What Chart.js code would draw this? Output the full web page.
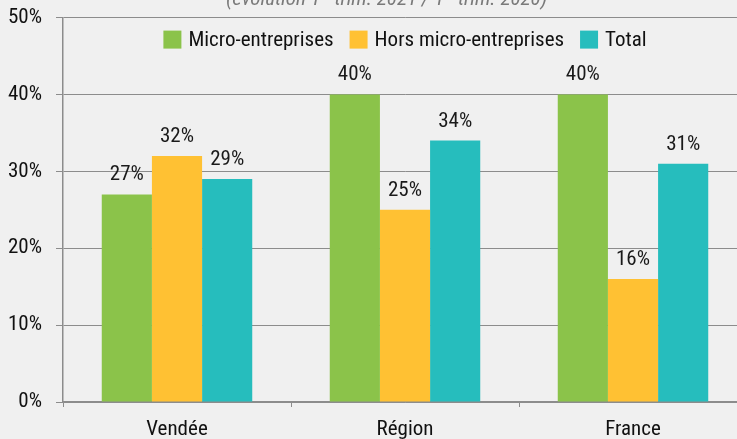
<!DOCTYPE html>
<html>
<head>
<meta charset="utf-8">
<script src="https://cdn.jsdelivr.net/npm/chart.js@4"></script>
<style>
  html, body { margin: 0; padding: 0; background: #f0f0f0; overflow: hidden; width: 737px; height: 439px; }
  #subtitle {
    position: absolute; top: -17px; left: 18px; width: 737px; text-align: center;
    font-family: "Roboto Condensed", "Liberation Sans Narrow", Roboto, sans-serif;
    font-style: italic; font-size: 21px; line-height: 20px; color: #7a7a7a;
  }
  #subtitle sup { font-size: 12px; }
  #wrap { position: absolute; top: -9px; left: 0; width: 747px; height: 469px; }
</style>
</head>
<body>
<div id="wrap"><canvas id="dataChart"></canvas></div>
<div id="subtitle">(évolution 1<sup>er</sup> trim. 2021 / 1<sup>er</sup> trim. 2020)</div>
<script>
// Chart data
const categories = ["Vendée", "Région", "France"];
const microEntreprises = [27, 40, 40];
const horsMicro = [32, 25, 16];
const total = [29, 34, 31];
const seriesNames = ["Micro-entreprises", "Hors micro-entreprises", "Total"];
const seriesColors = ["#8bc34a", "#ffc133", "#26bdbd"];
const yTicks = [0, 10, 20, 30, 40, 50];

const FONT = "'Roboto Condensed', 'Liberation Sans Narrow', Roboto, sans-serif";

// Draws the value above each bar
const valueLabels = {
    id: "valueLabels",
    afterDatasetsDraw(chart) {
        const ctx = chart.ctx;
        ctx.save();
        ctx.font = "21px " + FONT;
        ctx.fillStyle = "#1a1a1a";
        ctx.textAlign = "center";
        ctx.textBaseline = "alphabetic";
        chart.data.datasets.forEach((ds, i) => {
            chart.getDatasetMeta(i).data.forEach((bar, j) => {
                ctx.fillText(ds.data[j] + "%", bar.x, bar.y - 14);
            });
        });
        ctx.restore();
    }
};

// Legend drawn inside the plot, centred on the chart area
const innerLegend = {
    id: "innerLegend",
    afterDraw(chart) {
        const ctx = chart.ctx;
        const area = chart.chartArea;
        const box = 18, gap = 7, spacing = 16;
        ctx.save();
        ctx.font = "21px " + FONT;
        const items = chart.data.datasets.map(ds => ({
            text: ds.label, color: ds.backgroundColor, w: ctx.measureText(ds.label).width
        }));
        let width = items.reduce((s, it) => s + box + gap + it.w, 0) + spacing * (items.length - 1);
        let x = (area.left + area.right) / 2 - width / 2;
        const cy = area.top + 22;
        ctx.textBaseline = "middle";
        ctx.textAlign = "left";
        items.forEach(it => {
            ctx.fillStyle = it.color;
            ctx.fillRect(x, cy - box / 2, box, box);
            ctx.fillStyle = "#111";
            ctx.fillText(it.text, x + box + gap, cy + 1);
            x += box + gap + it.w + spacing;
        });
        ctx.restore();
    }
};

function createChart() {
    const ctx = document.getElementById("dataChart").getContext("2d");
    new Chart(ctx, {
        type: "bar",
        data: {
            labels: categories,
            datasets: [
                { label: seriesNames[0], data: microEntreprises, backgroundColor: seriesColors[0] },
                { label: seriesNames[1], data: horsMicro, backgroundColor: seriesColors[1] },
                { label: seriesNames[2], data: total, backgroundColor: seriesColors[2] }
            ]
        },
        options: {
            responsive: true,
            maintainAspectRatio: false,
            animation: false,
            layout: { padding: { top: 7, left: 0, right: 0, bottom: 18 } },
            datasets: { bar: { categoryPercentage: 0.66, barPercentage: 1.0 } },
            plugins: {
                legend: { display: false },
                tooltip: { enabled: false }
            },
            scales: {
                x: {
                    afterFit: s => { s.height = 40; },
                    grid: { offset: true, drawOnChartArea: false, tickLength: 5, color: "#8c8c8c" },
                    border: { color: "#8c8c8c", width: 1.5 },
                    ticks: { color: "#111", padding: 10, font: { family: FONT, size: 21 } }
                },
                y: {
                    min: 0,
                    max: 50,
                    afterFit: s => { s.width = 63; },
                    afterBuildTicks: s => { s.ticks = yTicks.map(v => ({ value: v })); },
                    grid: { color: "#8c8c8c", tickLength: 7 },
                    border: { color: "#8c8c8c", width: 1.5 },
                    ticks: {
                        color: "#111",
                        padding: 14,
                        font: { family: FONT, size: 21 },
                        callback: v => v + "%"
                    }
                }
            }
        },
        plugins: [valueLabels, innerLegend]
    });
}

createChart();
</script>
</body>
</html>
